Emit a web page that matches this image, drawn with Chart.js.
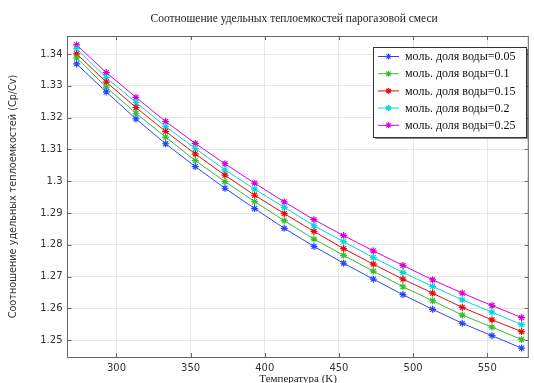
<!DOCTYPE html>
<html>
<head>
<meta charset="utf-8">
<script src="https://cdn.jsdelivr.net/npm/chart.js@4"></script>
<style>
  html, body { margin: 0; padding: 0; background: #fff; }
  #wrap { width: 534px; height: 383px; }
</style>
</head>
<body>
<div id="wrap"><canvas id="myChart"></canvas></div>
<script>
// temperatures, K
const temps = [273.15, 293.15, 313.15, 333.15, 353.15, 373.15, 393.15, 413.15,
               433.15, 453.15, 473.15, 493.15, 513.15, 533.15, 553.15, 573.15];

// Cp/Cv for each water mole fraction
const gamma005 = [1.3369, 1.3281, 1.3196, 1.3118, 1.3046, 1.2978, 1.2914, 1.2852,
                  1.2795, 1.2742, 1.2692, 1.2643, 1.2597, 1.2553, 1.2514, 1.2475];
const gamma010 = [1.3388, 1.3296, 1.3214, 1.3139, 1.3065, 1.2999, 1.2936, 1.2876,
                  1.2818, 1.2767, 1.2717, 1.2668, 1.2624, 1.2579, 1.2541, 1.2502];
const gamma015 = [1.3401, 1.3312, 1.3232, 1.3157, 1.3086, 1.3019, 1.2956, 1.2898,
                  1.2842, 1.2788, 1.2739, 1.2692, 1.2648, 1.2603, 1.2564, 1.2527];
const gamma020 = [1.3417, 1.3326, 1.3248, 1.3172, 1.3103, 1.3036, 1.2975, 1.2918,
                  1.2860, 1.2810, 1.2760, 1.2713, 1.2669, 1.2627, 1.2588, 1.2549];
const gamma025 = [1.3429, 1.3342, 1.3264, 1.3188, 1.3119, 1.3055, 1.2994, 1.2935,
                  1.2879, 1.2829, 1.2781, 1.2735, 1.2690, 1.2648, 1.2609, 1.2571];

const seriesLabels = ['моль. доля воды=0.05', 'моль. доля воды=0.1', 'моль. доля воды=0.15',
                      'моль. доля воды=0.2', 'моль. доля воды=0.25'];
const seriesValues = [gamma005, gamma010, gamma015, gamma020, gamma025];
const colors = ['rgb(40,70,255)', 'rgb(50,190,50)', 'rgb(230,10,10)', 'rgb(0,215,225)', 'rgb(215,0,215)'];

const chartTitle = 'Соотношение удельных теплоемкостей парогазовой смеси';
const xTitle = 'Температура (K)';
const yTitle = 'Соотношение удельных теплоемкостей (Cp/Cv)';

const datasets = seriesValues.map((vals, i) => ({
  label: seriesLabels[i],
  data: vals.map((v, j) => ({x: temps[j], y: v})),
  borderColor: colors[i],
  backgroundColor: colors[i],
  borderWidth: 1,
  pointStyle: 'star',
  pointRadius: 3.5,
  pointBorderWidth: 1.2,
  tension: 0,
  fill: false
}));

const serif = '"Liberation Serif", "DejaVu Serif", serif';
const sans = '"DejaVu Sans", sans-serif';

// title over the plot, inward ticks and the boxed legend
const decor = {
  id: 'decor',
  afterDraw: (chart) => {
    const {ctx, chartArea: a, scales} = chart;
    ctx.save();
    // title
    ctx.font = '11.5px ' + serif;
    ctx.fillStyle = '#222';
    ctx.textAlign = 'center';
    ctx.textBaseline = 'middle';
    ctx.fillText(chartTitle, (a.left + a.right) / 2 - 4, 19);

    // frame and inward ticks
    ctx.strokeStyle = '#666';
    ctx.lineWidth = 1;
    ctx.beginPath();
    ctx.moveTo(a.right - 0.5, a.top);
    ctx.lineTo(a.right - 0.5, a.bottom);
    ctx.moveTo(a.left, a.top + 0.5);
    ctx.lineTo(a.right, a.top + 0.5);
    scales.x.ticks.forEach(t => {
      const px = Math.round(scales.x.getPixelForValue(t.value)) + 0.5;
      ctx.moveTo(px, a.bottom); ctx.lineTo(px, a.bottom - 4);
      ctx.moveTo(px, a.top); ctx.lineTo(px, a.top + 4);
    });
    scales.y.ticks.forEach(t => {
      const py = Math.round(scales.y.getPixelForValue(t.value)) + 0.5;
      ctx.moveTo(a.left, py); ctx.lineTo(a.left + 4, py);
      ctx.moveTo(a.right, py); ctx.lineTo(a.right - 4, py);
    });
    ctx.stroke();

    // legend
    const bx = 373, by = 47, bw = 153, bh = 90;
    ctx.fillStyle = 'rgba(0,0,0,0.45)';
    ctx.fillRect(bx + 2, by + 2, bw, bh);
    ctx.fillStyle = '#fff';
    ctx.fillRect(bx, by, bw, bh);
    ctx.strokeStyle = '#333';
    ctx.strokeRect(bx + 0.5, by + 0.5, bw, bh);
    ctx.font = '12px ' + serif;
    ctx.textAlign = 'left';
    chart.data.datasets.forEach((ds, i) => {
      const y = 56.5 + i * 17.2;
      ctx.strokeStyle = ds.borderColor;
      ctx.beginPath();
      ctx.moveTo(378, y); ctx.lineTo(399, y);
      ctx.stroke();
      ctx.lineWidth = 1.2;
      Chart.helpers.drawPoint(ctx, {pointStyle: 'star', radius: 3, borderWidth: 1.2}, 388.5, y);
      ctx.lineWidth = 1;
      ctx.fillStyle = '#111';
      ctx.fillText(ds.label, 405, y + 0.5);
    });
    ctx.restore();
  }
};

const config = {
  type: 'line',
  data: {datasets: datasets},
  options: {
    responsive: false,
    animation: false,
    layout: {padding: {top: 36, left: 0, right: 0, bottom: 0}},
    plugins: {
      legend: {display: false},
      title: {display: false},
      tooltip: {enabled: false}
    },
    scales: {
      x: {
        type: 'linear',
        min: 267,
        max: 578,
        grid: {color: '#e6e6e6', drawTicks: false},
        border: {color: '#666'},
        ticks: {
          stepSize: 50,
          includeBounds: false,
          padding: 5,
          maxRotation: 0,
          color: '#333',
          font: {family: sans, size: 10}
        },
        title: {display: true, text: xTitle, color: '#222', font: {family: serif, size: 11}, padding: {top: 0, bottom: -3}},
        afterFit: s => { s.height = 26; }
      },
      y: {
        min: 1.2447,
        max: 1.3457,
        grid: {color: '#e6e6e6', drawTicks: false},
        border: {color: '#666'},
        ticks: {
          stepSize: 0.01,
          includeBounds: false,
          padding: 5,
          color: '#333',
          font: {family: sans, size: 10}
        },
        title: {display: true, text: yTitle, color: '#333', font: {family: sans, size: 9.7}, padding: {top: 8, bottom: 0}},
        afterFit: s => { s.width = 67.5; }
      }
    }
  },
  plugins: [decor]
};
config.options.scales.y.ticks.callback = v => String(+v.toFixed(2));

const canvas = document.getElementById('myChart');
canvas.width = 534;
canvas.height = 383;
new Chart(canvas, config);
</script>
</body>
</html>
